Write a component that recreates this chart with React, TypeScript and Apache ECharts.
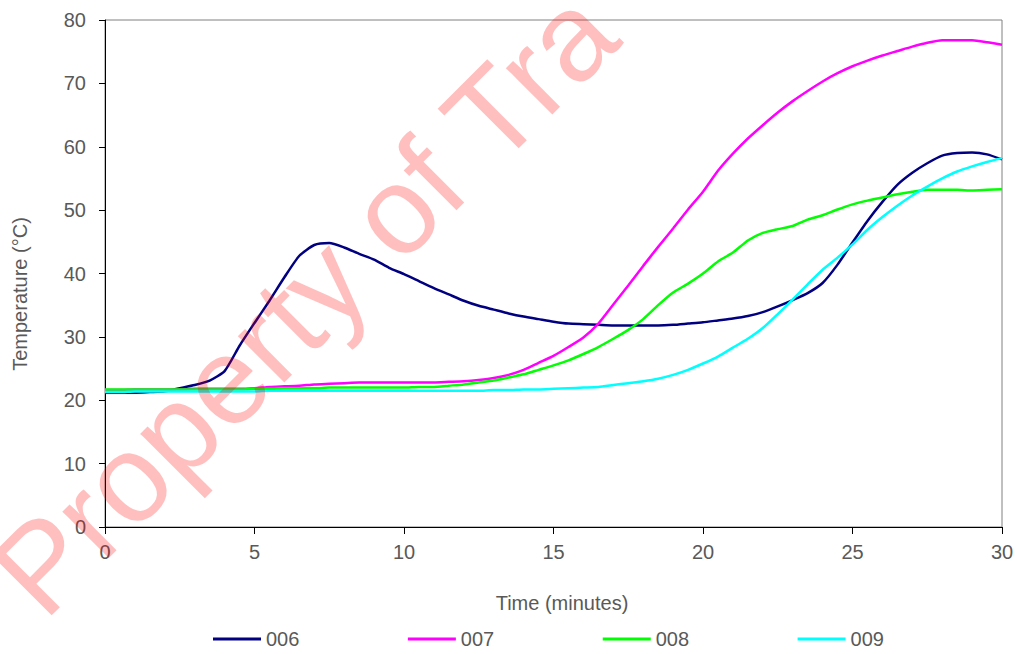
import React, { useEffect, useRef } from "react";
import * as echarts from "echarts";

const times: number[] = Array.from({ length: 61 }, (_, i) => i / 2);

const s006: number[] = [
  21.2, 21.2, 21.2, 21.3, 21.4, 21.9, 22.4, 23.1, 24.6, 28.6,
  32.2, 35.7, 39.4, 42.8, 44.5, 44.8, 44.1, 43.1, 42.2, 40.9,
  39.9, 38.8, 37.7, 36.7, 35.7, 34.9, 34.3, 33.7, 33.2, 32.8,
  32.4, 32.1, 32.0, 31.9, 31.8, 31.8, 31.8, 31.8, 31.9, 32.1,
  32.3, 32.6, 32.9, 33.3, 33.9, 34.8, 35.8, 36.9, 38.5, 41.4,
  44.9, 48.3, 51.3, 54.0, 55.9, 57.4, 58.6, 59.0, 59.1, 58.8,
  58.0,
];

const s007: number[] = [
  21.6, 21.6, 21.7, 21.7, 21.7, 21.7, 21.8, 21.8, 21.8, 21.8,
  21.9, 22.1, 22.2, 22.3, 22.5, 22.6, 22.7, 22.8, 22.8, 22.8,
  22.8, 22.8, 22.8, 22.9, 23.0, 23.2, 23.5, 24.0, 24.8, 25.9,
  27.0, 28.4, 29.9, 32.1, 35.1, 38.1, 41.2, 44.2, 47.1, 50.1,
  52.9, 56.2, 58.9, 61.3, 63.4, 65.4, 67.2, 68.8, 70.3, 71.6,
  72.7, 73.6, 74.4, 75.1, 75.8, 76.4, 76.8, 76.8, 76.8, 76.5,
  76.1,
];

const s008: number[] = [
  21.7, 21.7, 21.7, 21.7, 21.7, 21.7, 21.7, 21.7, 21.7, 21.7,
  21.8, 21.8, 21.9, 21.9, 21.9, 22.0, 22.0, 22.0, 22.0, 22.0,
  22.0, 22.1, 22.1, 22.3, 22.5, 22.8, 23.1, 23.6, 24.1, 24.8,
  25.5, 26.3, 27.3, 28.4, 29.7, 31.1, 32.8, 35.0, 37.0, 38.4,
  40.0, 41.9, 43.3, 45.2, 46.4, 47.0, 47.5, 48.5, 49.2, 50.1,
  50.9, 51.5, 52.0, 52.5, 52.9, 53.2, 53.2, 53.2, 53.1, 53.2,
  53.3,
];

const s009: number[] = [
  21.3, 21.3, 21.4, 21.4, 21.4, 21.4, 21.4, 21.4, 21.4, 21.4,
  21.4, 21.5, 21.5, 21.5, 21.5, 21.5, 21.5, 21.5, 21.5, 21.5,
  21.5, 21.5, 21.5, 21.5, 21.5, 21.5, 21.6, 21.6, 21.7, 21.7,
  21.8, 21.9, 22.0, 22.1, 22.4, 22.7, 23.0, 23.4, 24.0, 24.8,
  25.8, 26.9, 28.3, 29.7, 31.4, 33.6, 35.9, 38.3, 40.6, 42.5,
  44.6, 46.9, 48.9, 50.7, 52.3, 53.7, 55.0, 56.1, 56.9, 57.6,
  58.2,
];

const seriesNames: string[] = ["006", "007", "008", "009"];
const seriesColors: string[] = ["#000080", "#FF00FF", "#00FF00", "#00FFFF"];
const seriesValues: number[][] = [s006, s007, s008, s009];

const FONT = "'Liberation Sans', Arial, sans-serif";
const LABEL_COLOR = "#595959";

export default function App() {
  const ref = useRef<HTMLDivElement>(null);

  useEffect(() => {
    if (!ref.current) return;
    const chart = echarts.init(ref.current, undefined, { renderer: "svg" });
    chart.setOption({
      animation: false,
      backgroundColor: "#ffffff",
      grid: {
        left: 105,
        right: 15,
        top: 20,
        bottom: 127,
        show: true,
        borderColor: "#808080",
        borderWidth: 1,
        backgroundColor: "transparent",
      },
      xAxis: {
        type: "value",
        min: 0,
        max: 30,
        interval: 5,
        axisLine: { show: true, onZero: false, lineStyle: { color: "#000000", width: 1 } },
        axisTick: { show: true, inside: false, length: 7, lineStyle: { color: "#000000" } },
        splitLine: { show: false },
        axisLabel: { color: LABEL_COLOR, fontSize: 20, fontFamily: FONT, margin: 15 },
      },
      yAxis: {
        type: "value",
        min: 0,
        max: 80,
        interval: 10,
        axisLine: { show: true, onZero: false, lineStyle: { color: "#000000", width: 1 } },
        axisTick: { show: true, inside: false, length: 6, lineStyle: { color: "#000000" } },
        splitLine: { show: false },
        axisLabel: { color: LABEL_COLOR, fontSize: 20, fontFamily: FONT, margin: 19 },
      },
      legend: {
        left: 208,
        top: 624,
        icon: "rect",
        itemWidth: 48,
        itemHeight: 3,
        itemGap: 108.5,
        data: seriesNames,
        textStyle: { color: LABEL_COLOR, fontSize: 20, fontFamily: FONT },
      },
      series: seriesNames.map((name, k) => ({
        name,
        type: "line",
        data: times.map((t, i) => [t, seriesValues[k][i]]),
        showSymbol: false,
        smooth: 0.2,
        color: seriesColors[k],
        lineStyle: { color: seriesColors[k], width: 2.5 },
      })),
      graphic: [
        {
          type: "text",
          x: 20,
          y: 294,
          rotation: Math.PI / 2,
          style: {
            text: "Temperature (°C)",
            fill: LABEL_COLOR,
            font: `20px ${FONT}`,
            align: "center",
            verticalAlign: "middle",
          },
        },
        {
          type: "text",
          x: 562,
          y: 603,
          style: {
            text: "Time (minutes)",
            fill: LABEL_COLOR,
            font: `20px ${FONT}`,
            align: "center",
            verticalAlign: "middle",
          },
        },
        {
          type: "text",
          x: 14,
          y: 592,
          rotation: Math.PI / 4,
          z: 100,
          silent: true,
          style: {
            text: "Property of Tra",
            fill: "rgba(255,0,0,0.25)",
            font: `124px ${FONT}`,
            align: "left",
            verticalAlign: "middle",
          },
        },
      ],
    });
    return () => chart.dispose();
  }, []);

  return (
    <div
      ref={ref}
      style={{ position: "fixed", left: 0, top: 0, width: 1017, height: 654 }}
    />
  );
}
